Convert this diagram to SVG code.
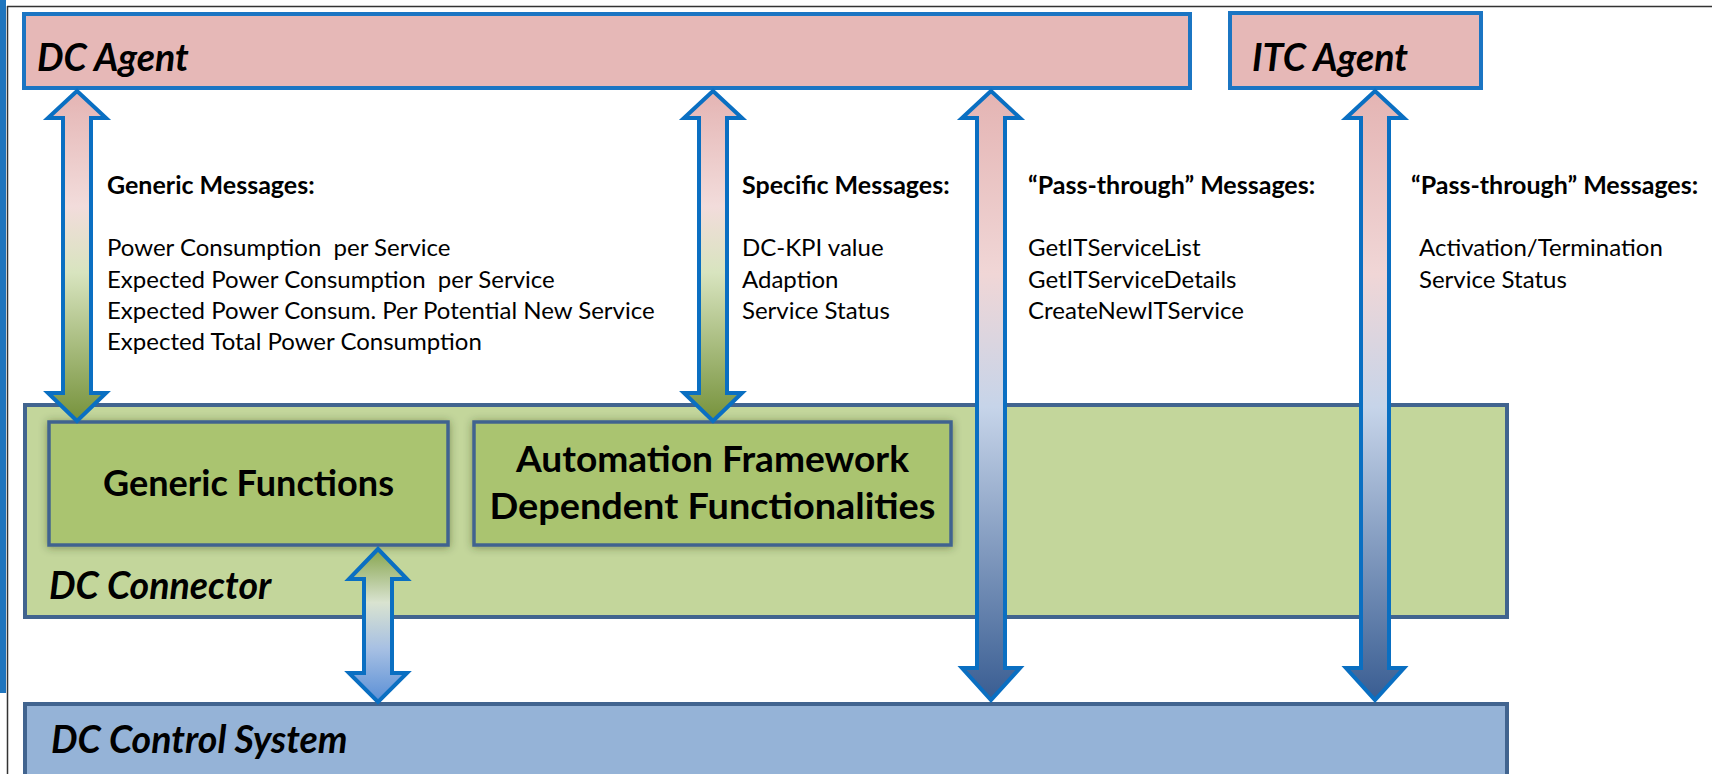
<svg xmlns="http://www.w3.org/2000/svg" width="1712" height="774" viewBox="0 0 1712 774">
<defs>
<linearGradient id="gPG" x1="0" y1="0" x2="0" y2="1">
<stop offset="0" stop-color="#e4b4b3"/>
<stop offset="0.35" stop-color="#f2dcdb"/>
<stop offset="0.55" stop-color="#d8e4bf"/>
<stop offset="1" stop-color="#76923b"/>
</linearGradient>
<linearGradient id="gPB" x1="0" y1="0" x2="0" y2="1">
<stop offset="0" stop-color="#e4b4b3"/>
<stop offset="0.3" stop-color="#f0d6d6"/>
<stop offset="0.52" stop-color="#c6d4e9"/>
<stop offset="1" stop-color="#395d92"/>
</linearGradient>
<linearGradient id="gGB" x1="0" y1="0" x2="0" y2="1">
<stop offset="0" stop-color="#86a44c"/>
<stop offset="0.35" stop-color="#d9e3d0"/>
<stop offset="0.65" stop-color="#a7c0e3"/>
<stop offset="1" stop-color="#5a8fd6"/>
</linearGradient>
<filter id="sh" x="-10%" y="-20%" width="120%" height="140%">
<feDropShadow dx="0" dy="1" stdDeviation="4" flood-color="#2a3a1a" flood-opacity="0.45"/>
</filter>
</defs>
<style>
.agent{fill:#e6b8b7;stroke:#1b75c3;stroke-width:4}
.conn{fill:#c3d69b;stroke:#41648f;stroke-width:4}
.ctrl{fill:#95b3d7;stroke:#41648f;stroke-width:4}
.func{fill:#aac46f;stroke:#41648f;stroke-width:3.5;filter:url(#sh)}
.big{font-family:Lato,"Liberation Sans",sans-serif;font-weight:bold;font-style:italic;font-size:37.5px;fill:#000}
.fn{font-family:Lato,"Liberation Sans",sans-serif;font-weight:bold;font-size:37px;fill:#000;text-anchor:middle}
.hd{font-family:Lato,"Liberation Sans",sans-serif;font-weight:bold;font-size:25px;fill:#000}
.bd{font-family:Lato,"Liberation Sans",sans-serif;font-size:24px;fill:#000}
.arr{stroke:#0a6fc2;stroke-width:4;stroke-linejoin:miter}
</style>
<rect x="0" y="0" width="1712" height="774" fill="#ffffff"/>
<rect x="0" y="0" width="6" height="693" fill="#1f75be"/>
<line x1="7.5" y1="6" x2="7.5" y2="774" stroke="#333" stroke-width="1.5"/>
<line x1="7" y1="6.5" x2="1712" y2="6.5" stroke="#333" stroke-width="1.5"/>

<g id="dc-agent">
<rect class="agent" x="24" y="14" width="1166" height="74"/>
<text class="big" x="37" y="71">DC Agent</text>
</g>
<g id="itc-agent">
<rect class="agent" x="1230" y="13" width="251" height="75"/>
<text class="big" x="1252" y="71">ITC Agent</text>
</g>
<g id="dc-connector">
<rect class="conn" x="25" y="405" width="1482" height="212"/>
<text class="big" x="49" y="599">DC Connector</text>
</g>
<g id="generic-functions">
<rect class="func" x="49" y="422" width="399" height="123"/>
<text class="fn" x="248.5" y="496" textLength="291" lengthAdjust="spacingAndGlyphs">Generic Functions</text>
</g>
<g id="automation-framework">
<rect class="func" x="474" y="422" width="477" height="123"/>
<text class="fn" x="712.5" y="472" textLength="393" lengthAdjust="spacingAndGlyphs">Automation Framework</text>
<text class="fn" x="712.5" y="519" textLength="446" lengthAdjust="spacingAndGlyphs">Dependent Functionalities</text>
</g>
<g id="dc-control-system">
<rect class="ctrl" x="25" y="704" width="1482" height="80"/>
<text class="big" x="51" y="753">DC Control System</text>
</g>

<g id="connectors">
<path class="arr" fill="url(#gPG)" d="M77,91 L106,118 L91,118 L91,393 L106,393 L77,421 L48,393 L63,393 L63,118 L48,118 Z"/>
<path class="arr" fill="url(#gPG)" d="M713,91 L742,118 L727,118 L727,393 L742,393 L713,421 L684,393 L699,393 L699,118 L684,118 Z"/>
<path class="arr" fill="url(#gPB)" d="M991,91 L1020,118 L1005,118 L1005,668 L1020,668 L991,700 L962,668 L977,668 L977,118 L962,118 Z"/>
<path class="arr" fill="url(#gPB)" d="M1375,91 L1404,118 L1389,118 L1389,668 L1404,668 L1375,700 L1346,668 L1361,668 L1361,118 L1346,118 Z"/>
<path class="arr" fill="url(#gGB)" d="M378,549 L407,579 L392,579 L392,673 L407,673 L378,702 L349,673 L364,673 L364,579 L349,579 Z"/>
</g>

<g id="generic-messages">
<text class="hd" x="107" y="194">Generic Messages:</text>
<text class="bd" x="107" y="256" xml:space="preserve">Power Consumption  per Service</text>
<text class="bd" x="107" y="287.5" xml:space="preserve">Expected Power Consumption  per Service</text>
<text class="bd" x="107" y="319">Expected Power Consum. Per Potential New Service</text>
<text class="bd" x="107" y="350">Expected Total Power Consumption</text>
</g>
<g id="specific-messages">
<text class="hd" x="742" y="194">Specific Messages:</text>
<text class="bd" x="742" y="256">DC-KPI value</text>
<text class="bd" x="742" y="287.5">Adaption</text>
<text class="bd" x="742" y="319">Service Status</text>
</g>
<g id="pass-through-dc">
<text class="hd" x="1028" y="194">“Pass-through” Messages:</text>
<text class="bd" x="1028" y="256">GetITServiceList</text>
<text class="bd" x="1028" y="287.5">GetITServiceDetails</text>
<text class="bd" x="1028" y="319">CreateNewITService</text>
</g>
<g id="pass-through-itc">
<text class="hd" x="1411" y="194">“Pass-through” Messages:</text>
<text class="bd" x="1419" y="256">Activation/Termination</text>
<text class="bd" x="1419" y="287.5">Service Status</text>
</g>
</svg>
